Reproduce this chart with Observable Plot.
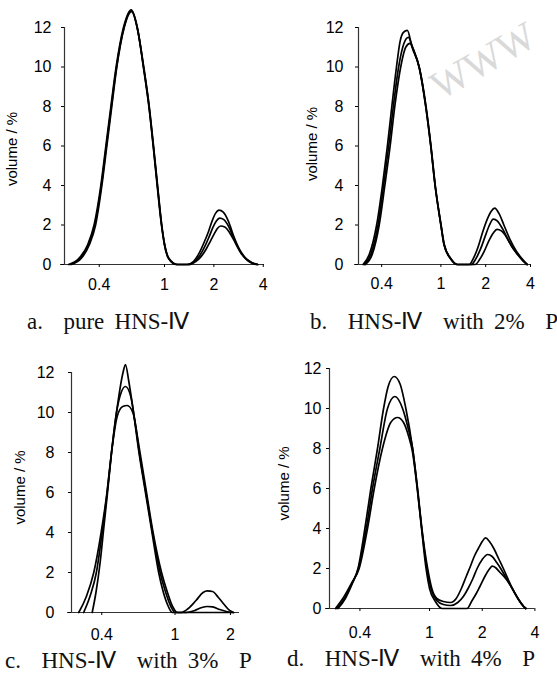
<!DOCTYPE html>
<html>
<head>
<meta charset="utf-8">
<script src="https://cdn.jsdelivr.net/npm/d3@7"></script>
<script src="https://cdn.jsdelivr.net/npm/@observablehq/plot@0.6"></script>
<style>
  html, body { margin: 0; padding: 0; background: #fff; }
  #root { position: relative; width: 557px; height: 675px; overflow: hidden; background: #fff; }
  .panel { position: absolute; }
  .cap { position: absolute; font-family: "Liberation Serif", "Times New Roman", serif; font-size: 23px; word-spacing: 4.5px; white-space: pre; color: #111; line-height: 1; }
  .wm { position: absolute; font-family: "Liberation Serif", serif; font-size: 40px; color: #d9d9d9; white-space: pre; transform-origin: 0 0; line-height: 1; }
</style>
</head>
<body>
<div id="root"></div>
<script>
// ---------- data ----------
const yTicks = [0, 2, 4, 6, 8, 10, 12];
const xTicksABD = [0.4, 1, 2, 4];
const xTicksC = [0.4, 1, 2];
const yLabel = "volume / %";
const captions = ["a.  pure HNS-Ⅳ", "b.  HNS-Ⅳ  with 2%  P", "c.  HNS-Ⅳ  with 3%  P", "d.  HNS-Ⅳ  with 4%  P"];

// panel a: pure HNS-IV (size / µm, volume / %)
const a1 = [[0.26,0],[0.30,0.3],[0.34,1],[0.372,2],[0.409,4],[0.439,6],[0.471,8],[0.507,10],[0.562,12],[0.626,12.9],[0.683,12],[0.743,10],[0.803,8],[0.853,6],[0.902,4],[0.958,2],[1.0,1],[1.06,0.3],[1.19,0],
  [1.37,0],[1.5,0.15],[1.62,0.55],[1.75,1.15],[1.86,1.7],[1.96,2.25],[2.05,2.6],[2.15,2.75],[2.28,2.65],[2.45,2.2],[2.65,1.4],[2.85,0.8],[3.1,0.35],[3.4,0.1],[3.7,0]];
const a2 = [[0.265,0],[0.305,0.3],[0.344,1],[0.376,2],[0.412,4],[0.442,6],[0.474,8],[0.51,10],[0.566,12],[0.628,12.85],[0.685,11.9],[0.745,10],[0.805,8],[0.855,6],[0.905,4],[0.96,2],[1.0,1],[1.06,0.3],[1.18,0],
  [1.40,0],[1.52,0.15],[1.64,0.45],[1.77,0.95],[1.88,1.45],[1.98,1.9],[2.07,2.2],[2.17,2.35],[2.3,2.27],[2.47,1.9],[2.67,1.25],[2.88,0.7],[3.12,0.3],[3.4,0.08],[3.7,0]];
const a3 = [[0.27,0],[0.31,0.3],[0.348,1],[0.38,2],[0.415,4],[0.445,6],[0.477,8],[0.512,10],[0.568,12],[0.63,12.8],[0.687,11.85],[0.747,10],[0.807,8],[0.857,6],[0.907,4],[0.962,2],[1.003,1],[1.065,0.3],[1.2,0],
  [1.42,0],[1.55,0.15],[1.67,0.4],[1.8,0.8],[1.91,1.2],[2.01,1.55],[2.1,1.82],[2.2,1.95],[2.33,1.9],[2.5,1.6],[2.7,1.1],[2.9,0.62],[3.15,0.27],[3.42,0.07],[3.7,0]];

// panel b: with 2% P
const b1 = [[0.30,0],[0.33,0.5],[0.37,2],[0.405,4],[0.437,6],[0.468,8],[0.503,10],[0.532,11.3],[0.56,11.75],[0.595,11.85],[0.64,11.0],[0.714,10],[0.791,8],[0.855,6],[0.914,4],[1.0,2],[1.05,1],[1.16,0.3],[1.29,0],
  [1.55,0],[1.65,0.3],[1.78,0.9],[1.9,1.6],[2.05,2.3],[2.18,2.7],[2.3,2.85],[2.45,2.6],[2.65,2.0],[2.9,1.3],[3.2,0.7],[3.5,0.3],[3.8,0]];
const b2 = [[0.305,0],[0.338,0.5],[0.378,2],[0.412,4],[0.446,6],[0.479,8],[0.52,10],[0.565,11.2],[0.605,11.5],[0.645,11.0],[0.714,10],[0.791,8],[0.855,6],[0.914,4],[1.0,2],[1.05,1],[1.16,0.3],[1.29,0],
  [1.6,0],[1.72,0.3],[1.85,0.8],[2.0,1.5],[2.12,2.0],[2.25,2.3],[2.4,2.2],[2.6,1.8],[2.85,1.2],[3.2,0.6],[3.5,0.25],[3.8,0]];
const b3 = [[0.31,0],[0.345,0.5],[0.385,2],[0.42,4],[0.456,6],[0.49,8],[0.537,10],[0.58,11],[0.62,11.2],[0.66,10.8],[0.72,9.9],[0.795,8],[0.858,6],[0.917,4],[1.003,2],[1.055,1],[1.165,0.3],[1.29,0],
  [1.7,0],[1.82,0.25],[1.95,0.65],[2.1,1.2],[2.25,1.6],[2.38,1.78],[2.55,1.7],[2.75,1.4],[3.0,0.9],[3.3,0.5],[3.55,0.2],[3.8,0]];

// panel c: with 3% P
const c1 = [[0.355,0],[0.372,1],[0.392,2.5],[0.41,4.2],[0.43,6],[0.452,8],[0.481,10],[0.522,12],[0.538,12.4],[0.56,11.6],[0.595,10],[0.637,8],[0.691,6],[0.75,4],[0.815,2],[0.865,1],[0.92,0.3],[0.966,0],[2.08,0]];
const c2 = [[0.319,0],[0.345,0.8],[0.374,2],[0.402,4],[0.428,6],[0.452,8],[0.481,10],[0.51,11],[0.538,11.3],[0.575,10.8],[0.605,9.6],[0.64,8],[0.695,6],[0.755,4],[0.83,2],[0.89,1],[0.95,0.3],[1.0,0],
  [1.15,0],[1.28,0.1],[1.4,0.25],[1.5,0.3],[1.6,0.28],[1.75,0.15],[1.9,0.05],[2.05,0]];
const c3 = [[0.30,0],[0.33,0.8],[0.362,2],[0.397,4],[0.427,6],[0.452,8],[0.485,9.8],[0.52,10.3],[0.55,10.35],[0.59,10],[0.64,8.2],[0.70,6],[0.76,4],[0.845,2],[0.91,1],[0.97,0.3],[1.03,0],
  [1.08,0],[1.18,0.2],[1.3,0.6],[1.42,1.0],[1.5,1.08],[1.6,1.05],[1.72,0.75],[1.85,0.4],[1.97,0.12],[2.08,0]];

// panel d: with 4% P
const d1 = [[0.30,0],[0.33,0.5],[0.36,1.2],[0.39,2],[0.427,4],[0.462,6],[0.504,8],[0.546,10],[0.58,11.1],[0.628,11.6],[0.68,11.2],[0.732,10],[0.80,8],[0.854,6],[0.904,4],[0.975,2],[1.03,1],[1.1,0.5],[1.2,0.35],[1.32,0.3],
  [1.42,0.5],[1.52,1],[1.62,1.6],[1.71,2.1],[1.8,2.6],[1.9,3.0],[2.0,3.35],[2.09,3.53],[2.2,3.35],[2.33,3.0],[2.48,2.5],[2.64,2],[2.8,1.5],[2.97,1],[3.2,0.5],[3.45,0.1],[3.55,0]];
const d2 = [[0.295,0],[0.33,0.55],[0.36,1.25],[0.392,2],[0.435,4],[0.472,6],[0.52,8],[0.575,10],[0.634,10.6],[0.701,10],[0.75,9.1],[0.80,8],[0.852,6],[0.902,4],[0.965,2],[1.02,1],[1.1,0.4],[1.2,0.2],[1.32,0.15],
  [1.45,0.3],[1.56,0.6],[1.66,1],[1.77,1.5],[1.87,2],[2.0,2.45],[2.15,2.7],[2.28,2.6],[2.42,2.3],[2.55,2.0],[2.75,1.5],[2.97,1],[3.2,0.5],[3.45,0.1],[3.55,0]];
const d3 = [[0.29,0],[0.325,0.6],[0.36,1.3],[0.396,2],[0.442,4],[0.483,6],[0.538,8],[0.60,9.3],[0.656,9.55],[0.71,9.3],[0.76,8.6],[0.80,7.8],[0.85,6],[0.90,4],[0.955,2],[1.0,1],[1.08,0.35],[1.18,0],
  [1.64,0],[1.75,0.4],[1.85,0.75],[1.94,1.1],[2.07,1.6],[2.21,2.0],[2.28,2.12],[2.38,2.05],[2.5,1.85],[2.75,1.45],[2.97,1],[3.2,0.5],[3.45,0.1],[3.55,0]];

// x-axis extents (µm) of each panel
const xDomA = [0.2456, 4.07];
const xDomB = [0.2795, 4];
const xDomC = [0.274, 2.24];
const xDomD = [0.268, 4];

// ---------- layout ----------
const layout = [
  {curves: [a1, a2, a3], xDom: xDomA, xTicks: xTicksABD, left: 0,   top: 0,   w: 278, h: 300, ml: 64, mr: 14,   mt: 27, mb: 36, xPad: 11, yPad: 10, lDx: -52, lDy: 3,  cap: {left: 27,  top: 310}},
  {curves: [b1, b2, b3], xDom: xDomB, xTicks: xTicksABD, left: 277, top: 0,   w: 280, h: 300, ml: 81, mr: 27,   mt: 27, mb: 36, xPad: 10, yPad: 12, lDx: -46, lDy: -2, cap: {left: 310, top: 310}},
  {curves: [c1, c2, c3], xDom: xDomC, xTicks: xTicksC,   left: 0,   top: 335, w: 278, h: 310, ml: 71, mr: 39,   mt: 37, mb: 33, xPad: 13, yPad: 14, lDx: -51, lDy: -5, cap: {left: 5,   top: 649}},
  {curves: [d1, d2, d3], xDom: xDomD, xTicks: xTicksABD, left: 277, top: 335, w: 280, h: 310, ml: 52, mr: 22.6, mt: 33, mb: 37, xPad: 15, yPad: 5,  lDx: -45, lDy: -5, cap: {left: 287, top: 647}}
];

const root = document.getElementById("root");
const fontStack = '"Liberation Sans", Arial, sans-serif';

layout.forEach((p, idx) => {
  const data = p.curves.flatMap((c, i) => c.map(([x, y]) => ({x, y, s: i})));
  const svg = Plot.plot({
    width: p.w, height: p.h,
    marginLeft: p.ml, marginRight: p.mr, marginTop: p.mt, marginBottom: p.mb,
    x: {type: "log", domain: p.xDom},
    y: {domain: [0, 12]},
    style: {fontFamily: fontStack, fontSize: "16px", color: "#000", background: "transparent", overflow: "visible"},
    marks: [
      Plot.ruleY([0], {insetLeft: -4, stroke: "#333", strokeWidth: 1.2}),
      Plot.ruleX([p.xDom[0]], {y1: 0, y2: 12, stroke: "#333", strokeWidth: 1.2}),
      Plot.axisX({ticks: p.xTicks, tickFormat: d => String(d), tickSize: 3, tickPadding: p.xPad, label: null, fontSize: 16}),
      Plot.axisY({ticks: yTicks, tickSize: 3, tickPadding: p.yPad, label: null, fontSize: 16}),
      Plot.line(data, {x: "x", y: "y", z: "s", curve: "monotone-x", stroke: "#000", strokeWidth: 1.7}),
      Plot.text([yLabel], {frameAnchor: "left", rotate: -90, textAnchor: "middle", dx: p.lDx, dy: p.lDy, fontSize: 15, fill: "#000"})
    ]
  });
  const wrap = document.createElement("div");
  wrap.className = "panel";
  wrap.style.left = p.left + "px";
  wrap.style.top = p.top + "px";
  wrap.appendChild(svg);
  root.appendChild(wrap);

  const cap = document.createElement("div");
  cap.className = "cap";
  cap.textContent = captions[idx];
  cap.style.left = p.cap.left + "px";
  cap.style.top = p.cap.top + "px";
  root.appendChild(cap);
});

// faint watermark in the upper right corner
const wm = document.createElement("div");
wm.className = "wm";
wm.textContent = "WWW";
wm.style.left = "424px";
wm.style.top = "72px";
wm.style.transform = "rotate(-30deg)";
root.appendChild(wm);
</script>
</body>
</html>
